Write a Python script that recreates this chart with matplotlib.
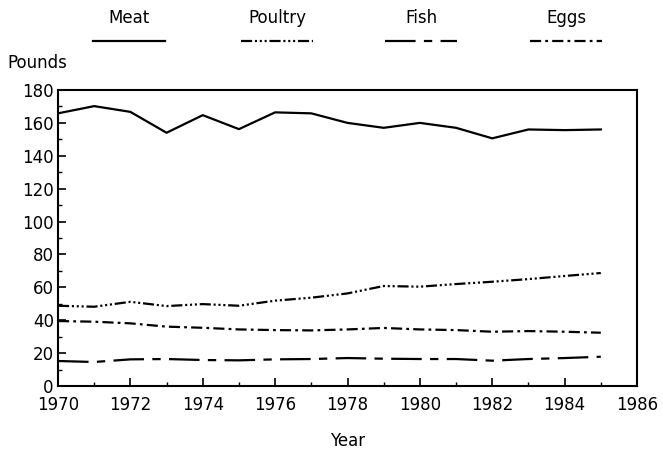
import numpy as np
import matplotlib
matplotlib.use("Agg")
import matplotlib.pyplot as plt
from matplotlib.lines import Line2D

plt.rcParams['font.family'] = ['DejaVu Sans']
plt.rcParams['lines.scale_dashes'] = False

# per capita consumption, pounds
years = list(range(1970, 1986))
meat = [165.8, 170.2, 166.7, 154.0, 164.7, 156.2, 166.4, 165.8,
        160.0, 157.0, 160.0, 157.0, 150.6, 156.0, 155.6, 156.0]
poultry = [48.8, 48.2, 51.2, 48.6, 49.8, 48.8, 51.9, 53.7,
           56.3, 60.8, 60.4, 62.0, 63.4, 65.0, 66.9, 68.7]
fish = [15.2, 14.6, 16.2, 16.4, 15.8, 15.6, 16.2, 16.4,
        17.0, 16.6, 16.4, 16.4, 15.4, 16.4, 17.0, 17.8]
eggs = [39.5, 39.1, 38.1, 36.1, 35.4, 34.4, 34.0, 33.8,
        34.4, 35.3, 34.4, 34.0, 33.0, 33.4, 33.0, 32.4]

names = ["Meat", "Poultry", "Fish", "Eggs"]
series = [meat, poultry, fish, eggs]
dash_styles = [
    None,
    (0, (8, 2, 1.5, 2, 1.5, 2, 1.5, 2)),
    (0, (22, 6, 6, 6)),
    (0, (8, 3, 2, 3)),
]

W, H = 663, 450
fig = plt.figure(figsize=(W / 100, H / 100), dpi=100)
ax = fig.add_axes([58 / W, 1 - 386 / H, (637 - 58) / W, (386 - 90) / H])

for vals, ls in zip(series, dash_styles):
    ax.plot(years, vals, color='black', lw=1.6,
            linestyle='-' if ls is None else ls)

ax.set_xlim(1970, 1986)
ax.set_ylim(0, 180)
ax.set_xticks(np.arange(1970, 1987, 2))
ax.set_xticks(np.arange(1970, 1987, 1), minor=True)
ax.set_yticks(np.arange(0, 181, 20))
ax.set_yticks(np.arange(0, 181, 10), minor=True)
ax.tick_params(which='major', direction='in', length=6, width=1.2, labelsize=12, pad=3)
ax.tick_params(axis='x', which='major', pad=7)
ax.tick_params(which='minor', direction='in', length=3, width=1.0)
for s in ax.spines.values():
    s.set_linewidth(1.5)

ax.set_xlabel("Year", fontsize=12, labelpad=13)
fig.text(7 / W, 1 - 63 / H, "Pounds", fontsize=12, ha='left', va='center')

# legend: label above a line sample
centers = [129, 277, 421, 566]
for name, cx, ls in zip(names, centers, dash_styles):
    fig.text(cx / W, 1 - 18 / H, name, fontsize=12, ha='center', va='center')
    ln = Line2D([(cx - 36) / W, (cx + 36) / W], [1 - 41 / H, 1 - 41 / H],
                transform=fig.transFigure, color='black', lw=1.6,
                linestyle='-' if ls is None else ls)
    fig.add_artist(ln)

fig.savefig("out.png", dpi=100)
